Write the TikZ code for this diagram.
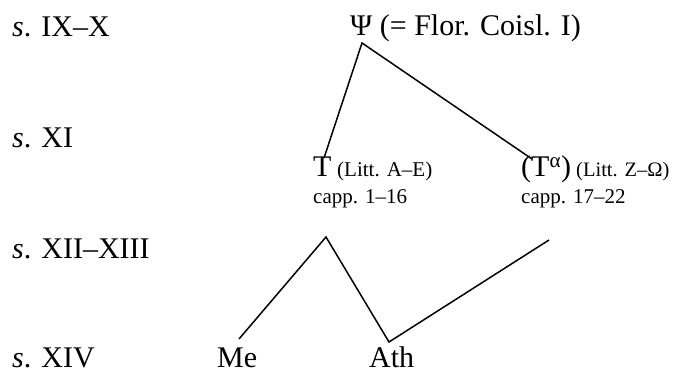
\documentclass[tikz,border=0pt]{standalone}
\usepackage{fontspec}
\setmainfont{Liberation Serif}
\begin{document}
\begin{tikzpicture}[x=1pt,y=-1pt,
  lbl/.style={anchor=base west,inner sep=0pt,font=\fontsize{30}{34}\selectfont},
  sml/.style={anchor=base west,inner sep=0pt,font=\fontsize{21}{25}\selectfont},
  stem/.style={line width=1.5pt,line join=miter}]
\useasboundingbox (0,0) rectangle (673,374);
% century labels
\node[lbl] (c1) at (12,37) {\textit{s}. IX–X};
\node[lbl] (c2) at (12,148) {\textit{s}. XI};
\node[lbl] (c3) at (12,259) {\textit{s}. XII–XIII};
\node[lbl] (c4) at (12,368) {\textit{s}. XIV};
% witnesses
\node[lbl] (psi) at (350,36) {Ψ (= Flor. Coisl. I)};
\node[lbl] (T) at (313,177) {T};
\node[sml] (Tl) at (337,177) {(Litt. A–E)};
\node[lbl] (Ta) at (521,177) {(T\textsuperscript{α})};
\node[sml,font=\fontsize{20.5}{24}\selectfont] (Tal) at (576,177) {(Litt. Z–Ω)};
\node[sml] (cT) at (313,204) {capp. 1–16};
\node[sml] (cTa) at (521,204) {capp. 17–22};
\node[lbl] (Me) at (217,368) {Me};
\node[lbl] (Ath) at (369,368) {Ath};
% connector points
\coordinate (psiB) at (362,43);
\coordinate (Ttop) at (324,158);
\coordinate (Tatop) at (532,159);
\coordinate (cTB) at (326,237);
\coordinate (MeT) at (239,339);
\coordinate (AthB) at (389,342);
\coordinate (cTaB) at (549,240);
\draw[stem] (Ttop) -- (psiB) -- (Tatop);
\draw[stem] (MeT) -- (cTB) -- (AthB) -- (cTaB);
\end{tikzpicture}
\end{document}
